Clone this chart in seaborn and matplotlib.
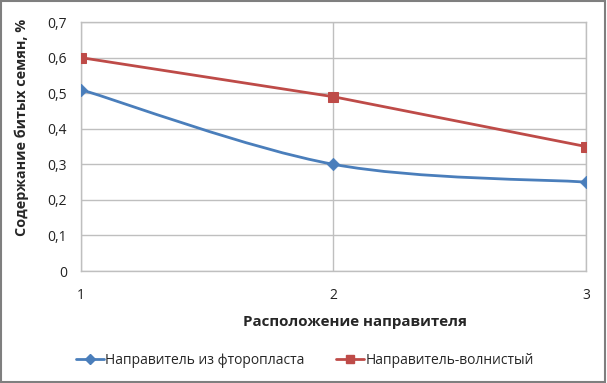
import numpy as np
import matplotlib
matplotlib.use("Agg")
import matplotlib.pyplot as plt
from matplotlib.path import Path
from matplotlib.patches import PathPatch, Rectangle
from matplotlib.lines import Line2D
import seaborn as sns
import pandas as pd

# ---- данные ----
positions = [1, 2, 3]
ftoroplast = [0.51, 0.30, 0.25]
volnisty = [0.60, 0.49, 0.35]
name_blue = "Направитель из фторопласта"
name_red = "Направитель-волнистый"
x_label = "Расположение направителя"
y_label = "Содержание битых семян, %"

blue = "#4A7EBB"
red = "#BE4B48"

sns.set_theme(style="white")
plt.rcParams['font.family'] = ['Open Sans', 'DejaVu Sans']

fig = plt.figure(figsize=(6.07, 3.83), dpi=100)
ax = fig.add_axes([0.1334, 0.2924, 0.832, 0.650])

df = pd.DataFrame({"x": positions, "y": volnisty})
sns.lineplot(data=df, x="x", y="y", ax=ax, color=red, lw=2, marker="s",
             markersize=7, markeredgecolor=red, zorder=4)


def smooth_path(xs, ys):
    # сглаженная линия как в Excel (кубические Безье)
    pts = np.column_stack([xs, ys]).astype(float)
    n = len(pts)
    verts = [pts[0]]
    codes = [Path.MOVETO]
    for i in range(n - 1):
        p0 = pts[max(i - 1, 0)]
        p1 = pts[i]
        p2 = pts[i + 1]
        p3 = pts[min(i + 2, n - 1)]
        c1 = p1 + (p2 - p0) / 6
        c2 = p2 - (p3 - p1) / 6
        verts += [c1, c2, p2]
        codes += [Path.CURVE4] * 3
    return Path(verts, codes)


ax.add_patch(PathPatch(smooth_path(positions, ftoroplast), fill=False,
                       edgecolor=blue, lw=2, zorder=4))
sns.scatterplot(x=positions, y=ftoroplast, ax=ax, color=blue, marker="D",
                s=40, edgecolor=blue, zorder=5)

ax.set_xlim(1, 3)
ax.set_ylim(0, 0.7)
ax.set_xticks(positions)
ax.set_yticks(np.arange(0, 0.71, 0.1))
ax.set_yticklabels(["0"] + [f"{v:.1f}".replace(".", ",") for v in np.arange(0.1, 0.71, 0.1)])
ax.grid(True, color="#BFBFBF", lw=1)
ax.set_axisbelow(True)
for s in ax.spines.values():
    s.set_color("#BFBFBF")
    s.set_linewidth(1)
ax.tick_params(axis="both", length=0, labelsize=10, colors="#222222")
ax.tick_params(axis="x", pad=12)
ax.tick_params(axis="y", pad=10)

ax.set_xlabel(x_label, fontsize=10.9, fontweight="bold")
ax.set_ylabel(y_label, fontsize=10.4, fontweight="bold")
ax.xaxis.set_label_coords((355 - 81) / 505, -(315 - 271) / 249)
ax.yaxis.set_label_coords(-(81 - 29) / 505, (271 - 127) / 249)

handles = [
    Line2D([], [], color=blue, lw=2, marker="D", markersize=5),
    Line2D([], [], color=red, lw=2, marker="s", markersize=6),
]
fig.legend(handles, [name_blue, name_red], loc="center", ncol=2,
           bbox_to_anchor=(305 / 607, 1 - 360 / 383), frameon=False, fontsize=10,
           handlelength=2.0, handletextpad=0.1, columnspacing=2.3)

fig.patches.append(Rectangle((0.002, 0.003), 0.994, 0.994, transform=fig.transFigure,
                             fill=False, edgecolor="#7F7F7F", lw=1.5))

fig.savefig("out.png", dpi=100)
